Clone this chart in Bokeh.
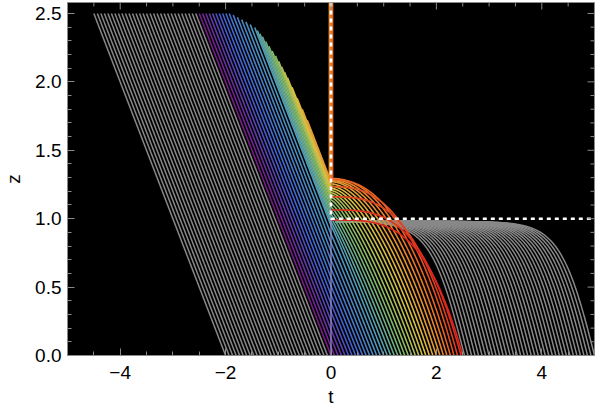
import numpy as np
from bokeh.plotting import figure
from bokeh.models import FixedTicker, Range1d, ColumnDataSource
from bokeh.embed import file_html
from bokeh.resources import INLINE

# ---------------- data ----------------
T_RANGE = (-5.0, 5.0)
Z_RANGE = (0.0, 2.58)
Z_TOP = 2.5

# feet of the curves (t where z = 0) for the three families
LEFT_GRAY_T0 = np.arange(-30, 0) / 15.0
COLOR_T0 = np.append(np.arange(0, 38) / 15.0, 2.5)
RIGHT_GRAY_T0 = np.arange(38, 76) / 15.0

# coloured family: height where a curve reaches t = 0, and arch exponent
CROSS_T0 = [0.0, 1.0, 1.5, 2.0, 2.25, 2.35, 2.45, 2.5]
CROSS_Z = [0.0, 0.95, 1.15, 1.27, 1.30, 1.22, 1.10, 0.99]
ARCH_P = [1.0, 1.05, 1.35, 1.9, 2.3, 2.8, 3.2, 3.5]

# coloured family on the t < 0 side: height at which each curve ends
END_T0 = [0.0, 0.62, 0.9, 1.2, 1.45, 1.75, 2.0]
END_Z = [2.5, 2.5, 2.43, 2.33, 2.2, 2.02, 1.72]
VERTICAL_T0 = (2.05, 2.28)      # these run up along t = 0

# gray plateau family
PLATEAU_Z = 0.98
PLATEAU_W = 0.65
PLATEAU_STOP_T = 0.08

# dashed horizon and faint shell line
HORIZON_T = [0.0, 0.0, 5.0]
HORIZON_Z = [2.58, 1.0, 1.0]
SHELL_T = [0.0, 0.0]
SHELL_Z = [0.0, 1.0]

X_TICKS = [-4, -2, 0, 2, 4]
X_LABELS = ["\u22124", "\u22122", "0", "2", "4"]
X_MINOR = [-5 + 0.5 * i for i in range(21)]
Y_TICKS = [0.0, 0.5, 1.0, 1.5, 2.0, 2.5]
Y_LABELS = ["0.0", "0.5", "1.0", "1.5", "2.0", "2.5"]
Y_MINOR = [round(0.1 * i, 1) for i in range(26)]

RAINBOW_POS = [0.0, 0.18, 0.40, 0.56, 0.72, 0.87, 1.0]
RAINBOW_RGB = [(120, 28, 134), (66, 98, 210), (80, 155, 185), (130, 185, 105),
               (218, 192, 66), (235, 125, 40), (220, 38, 32)]
GRAY = "#888888"
FRAME = "#8a8a8a"
FONT = "Liberation Sans"

W, H = 600, 416
BORDER_L, BORDER_R, BORDER_T, BORDER_B = 65, 6, 2, 61
MAJOR_LEN, MINOR_LEN = 7, 4


def rainbow(f):
    r = np.interp(f, RAINBOW_POS, [c[0] for c in RAINBOW_RGB])
    g = np.interp(f, RAINBOW_POS, [c[1] for c in RAINBOW_RGB])
    b = np.interp(f, RAINBOW_POS, [c[2] for c in RAINBOW_RGB])
    return "#%02x%02x%02x" % (int(r), int(g), int(b))


# ---------------- curves ----------------
lg_xs, lg_ys = [], []
for t0 in LEFT_GRAY_T0:
    lg_xs.append([t0, t0 - Z_TOP])
    lg_ys.append([0.0, Z_TOP])

rg_xs, rg_ys = [], []
for t0 in RIGHT_GRAY_T0:
    t = np.linspace(t0, PLATEAU_STOP_T, 240)
    z = PLATEAU_Z * np.tanh((t0 - t) / PLATEAU_W)
    rg_xs.append(list(t))
    rg_ys.append(list(z))

c_xs, c_ys, c_col = [], [], []
vert = [t0 for t0 in COLOR_T0 if VERTICAL_T0[0] <= t0 <= VERTICAL_T0[1]]
for t0 in COLOR_T0:
    zc = float(np.interp(t0, CROSS_T0, CROSS_Z))
    pw = float(np.interp(t0, CROSS_T0, ARCH_P))
    xs, ys = [], []
    if t0 > 0:
        t = np.linspace(t0, 0.0, 120)
        z = zc * (1 - (t / t0) ** pw)
        xs += list(t)
        ys += list(z)
    if t0 in vert:
        k = vert.index(t0)
        off = -0.03 + 0.06 * k / max(1, len(vert) - 1)
        xs += [off, off]
        ys += [zc, Z_RANGE[1]]
    elif t0 < VERTICAL_T0[0]:
        ze = float(np.interp(t0, END_T0, END_Z))
        z = np.linspace(zc, ze, 60)
        t = -(z - zc)
        xs += list(t)
        ys += list(z)
    c_xs.append(xs)
    c_ys.append(ys)
    c_col.append(rainbow(t0 / 2.5))

# ---------------- figure ----------------
p = figure(width=W, height=H,
           x_range=Range1d(*T_RANGE), y_range=Range1d(*Z_RANGE),
           output_backend="svg", toolbar_location=None,
           min_border_left=BORDER_L, min_border_right=BORDER_R,
           min_border_top=BORDER_T, min_border_bottom=BORDER_B,
           background_fill_color="black", border_fill_color="white",
           outline_line_color=FRAME)
p.styles = {"position": "absolute", "left": "0px", "top": "0px"}
p.grid.visible = False

p.multi_line(lg_xs, lg_ys, line_color=GRAY, line_width=1.5)
p.multi_line(rg_xs, rg_ys, line_color=GRAY, line_width=1.5)
p.multi_line(xs="xs", ys="ys", line_color="col", line_width=1.6,
             source=ColumnDataSource(dict(xs=c_xs, ys=c_ys, col=c_col)))
p.line(SHELL_T, SHELL_Z, line_color="#a195e0", line_alpha=0.75, line_width=1.6)
p.line(HORIZON_T, HORIZON_Z, line_color="white", line_width=2.6, line_dash="4 4")

# mirror ticks on the top and right frame edges (pixel lengths -> data units)
px_t = (W - BORDER_L - BORDER_R) / (T_RANGE[1] - T_RANGE[0])
px_z = (H - BORDER_T - BORDER_B) / (Z_RANGE[1] - Z_RANGE[0])
top_x0, top_y0, top_y1 = [], [], []
for x in X_MINOR:
    L = MAJOR_LEN if x in X_TICKS else MINOR_LEN
    top_x0.append(x)
    top_y0.append(Z_RANGE[1])
    top_y1.append(Z_RANGE[1] - L / px_z)
p.segment(x0=top_x0, y0=top_y0, x1=top_x0, y1=top_y1, line_color=FRAME, line_width=1)
r_y0, r_x0, r_x1 = [], [], []
for y in Y_MINOR:
    L = MAJOR_LEN if y in Y_TICKS else MINOR_LEN
    r_y0.append(y)
    r_x0.append(T_RANGE[1])
    r_x1.append(T_RANGE[1] - L / px_t)
p.segment(x0=r_x0, y0=r_y0, x1=r_x1, y1=r_y0, line_color=FRAME, line_width=1)


def style(ax):
    ax.axis_line_color = FRAME
    ax.major_tick_line_color = FRAME
    ax.minor_tick_line_color = FRAME
    ax.major_tick_in = MAJOR_LEN
    ax.major_tick_out = 0
    ax.minor_tick_in = MINOR_LEN
    ax.minor_tick_out = 0
    ax.major_label_text_font = FONT
    ax.major_label_text_font_size = "19px"
    ax.major_label_text_color = "black"
    ax.axis_label_text_font = FONT
    ax.axis_label_text_font_size = "19px"
    ax.axis_label_text_font_style = "normal"
    ax.axis_label_text_color = "black"


xa = p.xaxis[0]
xa.ticker = FixedTicker(ticks=X_TICKS, minor_ticks=X_MINOR)
xa.major_label_overrides = {k: v for k, v in zip(X_TICKS, X_LABELS)}
xa.axis_label = "t"
style(xa)
xa.major_label_standoff = 10
xa.axis_label_standoff = 4

ya = p.yaxis[0]
ya.ticker = FixedTicker(ticks=Y_TICKS, minor_ticks=Y_MINOR)
ya.major_label_overrides = {k: v for k, v in zip(Y_TICKS, Y_LABELS)}
ya.axis_label = "z"
style(ya)
ya.major_label_standoff = 6
ya.axis_label_standoff = 8

open("out.html", "w").write(file_html(p, INLINE))
